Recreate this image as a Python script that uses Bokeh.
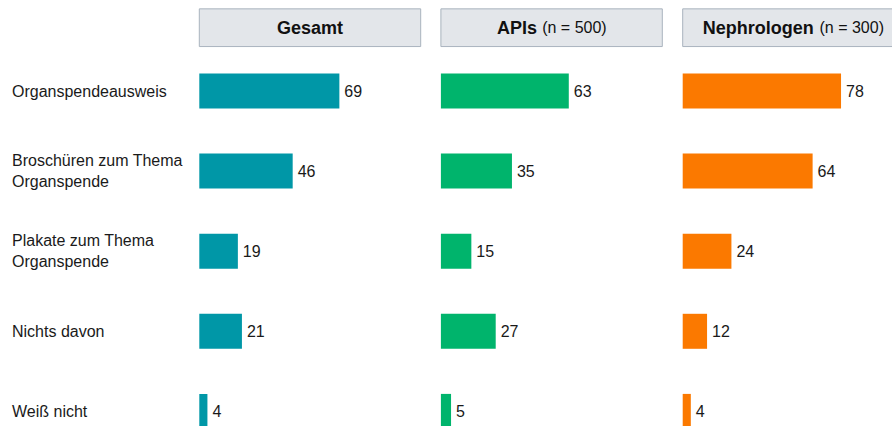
from bokeh.plotting import figure
from bokeh.models import Range1d, ColumnDataSource
from bokeh.core.properties import value
from bokeh.embed import file_html
from bokeh.resources import INLINE

# ---- data ----
categories = ["Organspendeausweis",
              "Broschüren zum Thema\nOrganspende",
              "Plakate zum Thema\nOrganspende",
              "Nichts davon",
              "Weiß nicht"]
gesamt = [69, 46, 19, 21, 4]
apis = [63, 35, 15, 27, 5]
nephrologen = [78, 64, 24, 12, 4]

panel_keys = ["g", "a", "n"]
panel_titles = ["Gesamt", "APIs", "Nephrologen"]
panel_notes = ["", "(n = 500)", "(n = 300)"]
panel_values = [gesamt, apis, nephrologen]
panel_colors = ["#0097a7", "#00b46c", "#fb7900"]

# ---- layout (page pixels) ----
W, H = 892, 426
PAGE_L, PAGE_T = 0, 0
S = 2.03            # px per percentage point
ORIGINS = [198.8, 440.4, 682.2]
ROW0, PITCH = 90.5, 80.1
FONT = value("Liberation Sans")

p = figure(width=W, height=H, output_backend="svg", toolbar_location=None,
           x_axis_type=None, y_axis_type=None, min_border=0,
           x_range=Range1d(PAGE_L, PAGE_L + W),
           y_range=Range1d((PAGE_T + H - ROW0) / PITCH, (PAGE_T - ROW0) / PITCH))
p.outline_line_color = None
p.grid.visible = False
p.background_fill_color = "white"
p.border_fill_color = "white"

for key, o in zip(panel_keys, ORIGINS):
    p.extra_x_ranges[key] = Range1d((PAGE_L - o) / S, (PAGE_L + W - o) / S)

ys = list(range(len(categories)))

# category labels
p.text(x=[11.5] * len(ys), y=ys, text=categories, text_font=FONT,
       text_font_size="16px", text_color="#1a1a1a", text_align="left",
       text_baseline="middle", text_line_height=1.22)

HEADER_Y = (27.2 - ROW0) / PITCH
HEADER_H = 37.7 / PITCH
HEADER_W = 221.4 / S
BAR_H = 35 / PITCH

# per-panel text offsets (px) for bold title / note pieces
title_offsets = [(0, None), (-14.6, -9.4), (20.3, 26.1)]

for key, title, note, vals, col, (to, no) in zip(panel_keys, panel_titles, panel_notes,
                                                  panel_values, panel_colors, title_offsets):
    # header box
    p.hbar(y=[HEADER_Y], left=[0], right=[HEADER_W], height=HEADER_H,
           fill_color="#e3e6ea", line_color="#a9b3be", line_width=1, x_range_name=key)
    if note:
        p.text(x=[HEADER_W / 2], y=[HEADER_Y], text=[title], x_offset=to,
               text_font=FONT, text_font_size="18px", text_font_style="bold",
               text_color="#111111", text_align="right", text_baseline="middle",
               x_range_name=key)
        p.text(x=[HEADER_W / 2], y=[HEADER_Y], text=[note], x_offset=no,
               text_font=FONT, text_font_size="16px", text_color="#111111",
               text_align="left", text_baseline="middle", x_range_name=key)
    else:
        p.text(x=[HEADER_W / 2], y=[HEADER_Y], text=[title],
               text_font=FONT, text_font_size="18px", text_font_style="bold",
               text_color="#111111", text_align="center", text_baseline="middle",
               x_range_name=key)

    src = ColumnDataSource(dict(y=ys, v=vals, lbl=[str(v) for v in vals]))
    p.hbar(y="y", left=0, right="v", height=BAR_H, source=src,
           fill_color=col, line_color=None, x_range_name=key)
    p.text(x="v", y="y", text="lbl", source=src, x_offset=5,
           text_font=FONT, text_font_size="16px", text_color="#1a1a1a",
           text_align="left", text_baseline="middle", x_range_name=key)

open("out.html", "w").write(file_html(p, INLINE))
